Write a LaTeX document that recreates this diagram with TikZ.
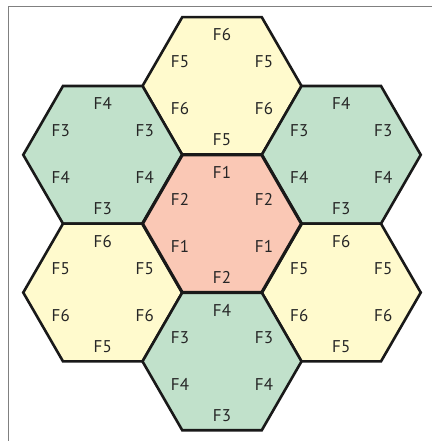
\documentclass[tikz,border=0pt]{standalone}
\usepackage{fontspec}
\setsansfont{PT Sans}
\usepackage{xcolor}
\definecolor{cellyel}{HTML}{FFFACD}
\definecolor{cellgrn}{HTML}{C1E1CB}
\definecolor{cellred}{HTML}{FAC8B5}
\definecolor{framegray}{HTML}{808080}
\tikzset{
  cell/.style={draw=black!90,line width=2.6pt,line join=miter},
  lbl/.style={font=\sffamily\fontsize{17}{17}\selectfont,text=black!85,inner sep=0pt}
}
\begin{document}
\begin{tikzpicture}[x=1pt,y=1pt]
  \useasboundingbox (0,0) rectangle (432,441);
  \def\R{79.5}

  % ---- Frame (top and left only) -------------------------------
  \draw[framegray,line width=1.5pt] (8.5,0) -- (8.5,434.5) -- (432,434.5);

  % ---- Cell centres --------------------------------------------
  \coordinate (cC)  at (222,217.3);
  \coordinate (cT)  at (222,355.0);
  \coordinate (cB)  at (222,79.6);
  \coordinate (cUL) at (102.75,286.15);
  \coordinate (cUR) at (341.25,286.15);
  \coordinate (cLL) at (102.75,148.45);
  \coordinate (cLR) at (341.25,148.45);

  % ---- Cells with their frequency labels -----------------------
  \foreach \c/\col/\a/\b in {cT/cellyel/F6/F5, cUL/cellgrn/F4/F3,
      cUR/cellgrn/F4/F3, cLL/cellyel/F6/F5, cLR/cellyel/F6/F5,
      cB/cellgrn/F4/F3} {
    \filldraw[cell,fill=\col] (\c) +(0:\R) -- +(60:\R) -- +(120:\R)
      -- +(180:\R) -- +(240:\R) -- +(300:\R) -- cycle;
    \path (\c) ++(0,51)   node[lbl] (\c-t)  {\a};
    \path (\c) ++(-42,24) node[lbl] (\c-ul) {\b};
    \path (\c) ++(42,24)  node[lbl] (\c-ur) {\b};
    \path (\c) ++(-42,-23) node[lbl] (\c-ll) {\a};
    \path (\c) ++(42,-23) node[lbl] (\c-lr) {\a};
    \path (\c) ++(0,-54)  node[lbl] (\c-b)  {\b};
  }

  % Centre cell on top, heavier outline
  \filldraw[cell,line width=3.2pt,fill=cellred] (cC) +(0:\R) -- +(60:\R)
    -- +(120:\R) -- +(180:\R) -- +(240:\R) -- +(300:\R) -- cycle;
  \path (cC) ++(0,51)    node[lbl] (cC-t)  {F1};
  \path (cC) ++(-42,24)  node[lbl] (cC-ul) {F2};
  \path (cC) ++(42,24)   node[lbl] (cC-ur) {F2};
  \path (cC) ++(-42,-23) node[lbl] (cC-ll) {F1};
  \path (cC) ++(42,-23)  node[lbl] (cC-lr) {F1};
  \path (cC) ++(0,-54)   node[lbl] (cC-b)  {F2};

\end{tikzpicture}
\end{document}
